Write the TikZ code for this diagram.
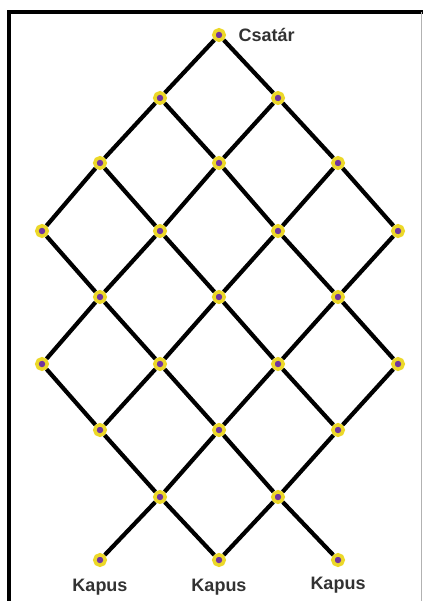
\documentclass[tikz,border=0pt]{standalone}
\usepackage{fontspec}
\setmainfont{Liberation Sans}
\usetikzlibrary{positioning}
\definecolor{ringyellow}{RGB}{236,216,40}
\definecolor{dotpurple}{RGB}{112,52,160}
\definecolor{labelgray}{RGB}{50,50,50}

\begin{document}
\begin{tikzpicture}[x=1pt, y=-1pt, every node/.style={font=\fontsize{18}{20}\selectfont\bfseries, text=labelgray},
	v/.style={circle, draw=ringyellow, line width=3.5pt, fill=dotpurple, minimum size=10.5pt, inner sep=0pt},
	e/.style={black, line width=4.2pt}, lbl/.style={inner sep=3.33pt}]
	\useasboundingbox (0,0) rectangle (423,601);
	% frame
	\draw[black, line width=4pt] (9,601) -- (9,12) -- (423,12);
	\draw[gray!60, line width=1pt] (421.5,12) -- (421.5,601);
	% players
	\node[v] (n00) at (219,35) {};
	\node[v] (n01) at (160,98) {};
	\node[v] (n10) at (278,98) {};
	\node[v] (n02) at (100,163) {};
	\node[v] (n11) at (219,163) {};
	\node[v] (n20) at (338,163) {};
	\node[v] (n03) at (42,231) {};
	\node[v] (n12) at (160,231) {};
	\node[v] (n21) at (278,231) {};
	\node[v] (n30) at (398,231) {};
	\node[v] (n13) at (100,297) {};
	\node[v] (n22) at (219,297) {};
	\node[v] (n31) at (338,297) {};
	\node[v] (n14) at (42,364) {};
	\node[v] (n23) at (160,364) {};
	\node[v] (n32) at (278,364) {};
	\node[v] (n41) at (398,364) {};
	\node[v] (n24) at (100,430) {};
	\node[v] (n33) at (219,430) {};
	\node[v] (n42) at (338,430) {};
	\node[v] (n34) at (160,497) {};
	\node[v] (n43) at (278,497) {};
	\node[v] (n35) at (100,560) {};
	\node[v] (n44) at (219,560) {};
	\node[v] (n53) at (338,560) {};
	% down to the right
	\draw[e] (n00) -- (n10) -- (n20) -- (n30);
	\draw[e] (n01) -- (n11) -- (n21) -- (n31) -- (n41);
	\draw[e] (n02) -- (n12) -- (n22) -- (n32) -- (n42);
	\draw[e] (n03) -- (n13) -- (n23) -- (n33) -- (n43) -- (n53);
	\draw[e] (n14) -- (n24) -- (n34) -- (n44);
	% down to the left
	\draw[e] (n00) -- (n01) -- (n02) -- (n03);
	\draw[e] (n10) -- (n11) -- (n12) -- (n13) -- (n14);
	\draw[e] (n20) -- (n21) -- (n22) -- (n23) -- (n24);
	\draw[e] (n30) -- (n31) -- (n32) -- (n33) -- (n34) -- (n35);
	\draw[e] (n41) -- (n42) -- (n43) -- (n44);
	% labels
	\node[lbl, right=9pt of n00] (csatar) {Csatár};
	\node[lbl, below=9pt of n35] (kapusA) {Kapus};
	\node[lbl, below=9pt of n44] (kapusB) {Kapus};
	\node[lbl, below=7pt of n53] (kapusC) {Kapus};
\end{tikzpicture}
\end{document}
